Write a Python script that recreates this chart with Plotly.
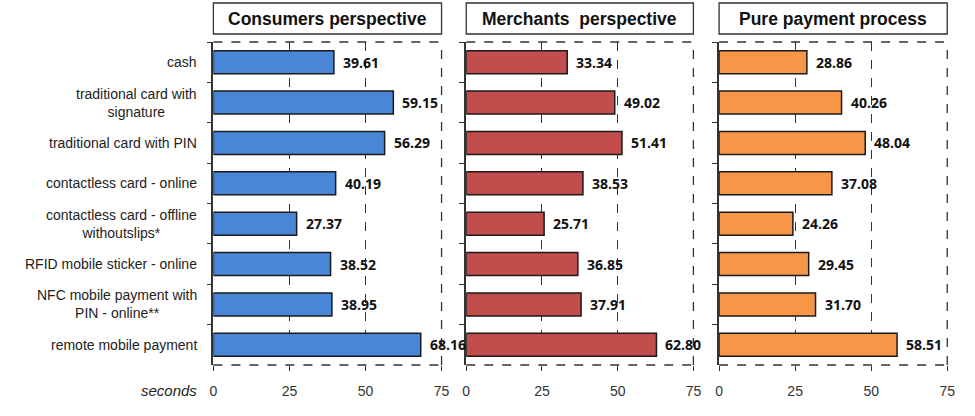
import plotly.graph_objects as go

categories = [
    "cash",
    "traditional card with<br>signature",
    "traditional card with PIN",
    "contactless card - online",
    "contactless card - offline<br>withoutslips*",
    "RFID mobile sticker - online",
    "NFC mobile payment with<br>PIN - online**",
    "remote mobile payment",
]
consumers = [39.61, 59.15, 56.29, 40.19, 27.37, 38.52, 38.95, 68.16]
merchants = [33.34, 49.02, 51.41, 38.53, 25.71, 36.85, 37.91, 62.80]
pure_payment = [28.86, 40.26, 48.04, 37.08, 24.26, 29.45, 31.70, 58.51]

panel_titles = ["Consumers perspective", "Merchants  perspective", "Pure payment process"]
panel_values = [consumers, merchants, pure_payment]
panel_colors = ["#4a86d8", "#c24d4a", "#f79646"]
x_ticks = [0, 25, 50, 75]

W, H = 975, 416
top, bottom = 42, 365
ph = bottom - top
domains = [(212, 443), (468, 698), (724, 955)]


def py(p):
    # pixel row -> paper y
    return (bottom - p) / ph


fig = go.Figure()

for i, (vals, col) in enumerate(zip(panel_values, panel_colors)):
    n = "" if i == 0 else str(i + 1)
    xr, yr = "x" + n, "y" + n
    fig.add_trace(go.Bar(
        x=vals, y=categories, orientation="h",
        marker=dict(color=col, line=dict(color="#1a1a1a", width=1.5)),
        width=0.57, xaxis=xr, yaxis=yr, showlegend=False,
        hoverinfo="x+y",
    ))
    d0, d1 = domains[i]
    fig.update_layout({
        "xaxis" + n: dict(
            domain=[d0 / W, d1 / W], range=[0, 75], anchor=yr,
            tickvals=x_ticks, ticks="outside", ticklen=5, tickcolor="#333",
            ticklabelstandoff=8,
            showgrid=True, gridcolor="#333", gridwidth=1.3, griddash="dash",
            zeroline=False, showline=False,
            tickfont=dict(family="Liberation Sans, Arial", size=14, color="#333"),
        ),
        "yaxis" + n: dict(
            anchor=xr, categoryorder="array", categoryarray=categories,
            autorange="reversed", showticklabels=False,
            ticks="outside", tickson="boundaries", ticklen=5, tickcolor="#333",
            showline=True, linecolor="#333", linewidth=1.5, showgrid=False,
        ),
    })
    # dashed frame: bottom, top, right
    for y0 in (0, 1):
        fig.add_shape(type="line", xref=xr + " domain", yref=yr + " domain",
                      x0=0, x1=1, y0=y0, y1=y0,
                      line=dict(color="#333", width=1.3, dash="dash"))
    fig.add_shape(type="line", xref=xr + " domain", yref=yr + " domain",
                  x0=1, x1=1, y0=0, y1=1,
                  line=dict(color="#333", width=1.3, dash="dash"))
    # title box
    fig.add_shape(type="rect", xref="paper", yref="paper",
                  x0=d0 / W, x1=d1 / W, y0=py(34), y1=py(3),
                  line=dict(color="#333", width=1.3), fillcolor="white")
    fig.add_annotation(xref="paper", yref="paper",
                       x=(d0 + d1) / 2 / W, y=py(18.5),
                       xanchor="center", yanchor="middle",
                       text="<b>" + panel_titles[i] + "</b>", showarrow=False,
                       font=dict(family="Liberation Sans, Arial", size=17.5, color="#111"))
    # value labels
    for c, v in zip(categories, vals):
        fig.add_annotation(x=v, y=c, xref=xr, yref=yr, text="<b>%.2f</b>" % v,
                           showarrow=False, xanchor="left", yanchor="middle", xshift=7,
                           font=dict(family="Open Sans", size=14, color="#111"))

# category labels
for c in categories:
    fig.add_annotation(x=0, y=c, xref="x", yref="y", text=c, showarrow=False,
                       xanchor="right", yanchor="middle", align="center", xshift=-14,
                       font=dict(family="Liberation Sans, Arial", size=14, color="#222"))

fig.add_annotation(xref="paper", yref="paper", x=197 / W, y=py(390),
                   text="<i>seconds</i>", showarrow=False,
                   xanchor="right", yanchor="middle",
                   font=dict(family="Liberation Sans, Arial", size=15, color="#222"))

fig.update_layout(
    width=W, height=H,
    margin=dict(l=0, r=0, t=top, b=H - bottom),
    plot_bgcolor="white", paper_bgcolor="white",
)

fig.write_html("out.html", config={"displayModeBar": False},
               post_script="document.body.style.margin='0';")
